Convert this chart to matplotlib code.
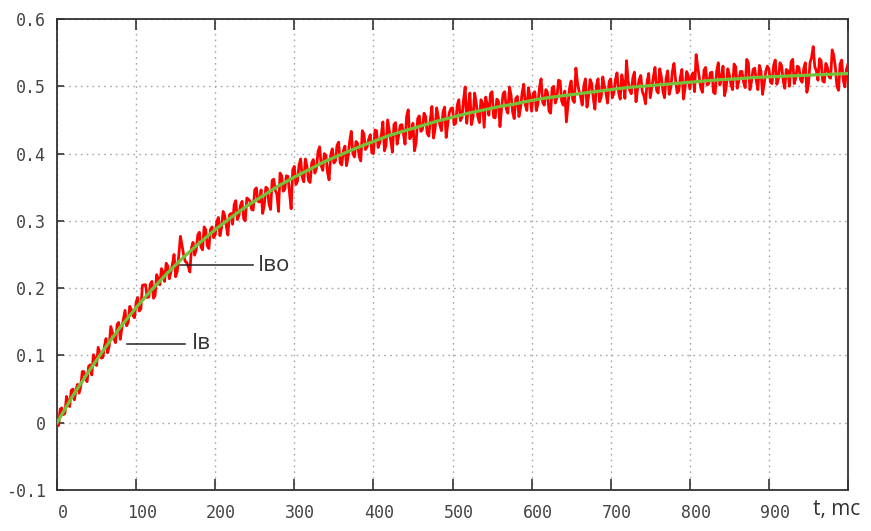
import numpy as np
import matplotlib
matplotlib.use("Agg")
import matplotlib.pyplot as plt
import matplotlib.transforms as mtransforms

# ---- data ----
t_fit = np.arange(0, 1001, 20)          # ms
i_fit = [0.000, 0.040, 0.076, 0.110, 0.142, 0.171, 0.198, 0.223, 0.246, 0.267,
         0.287, 0.305, 0.322, 0.337, 0.352, 0.365, 0.377, 0.389, 0.399, 0.409,
         0.418, 0.427, 0.434, 0.441, 0.448, 0.454, 0.460, 0.465, 0.470, 0.474,
         0.479, 0.483, 0.486, 0.489, 0.492, 0.495, 0.498, 0.500, 0.502, 0.504,
         0.506, 0.508, 0.510, 0.511, 0.513, 0.514, 0.515, 0.516, 0.517, 0.518,
         0.519]

t_meas = np.arange(0, 1001, 2)          # ms
i_meas = [
    # 0 - 98
    -0.005, -0.004, 0.020, 0.022, 0.012, 0.014, 0.039, 0.032, 0.024, 0.048,
    0.050, 0.034, 0.049, 0.057, 0.044, 0.054, 0.076, 0.076, 0.066, 0.061,
    0.084, 0.086, 0.071, 0.101, 0.096, 0.085, 0.112, 0.104, 0.096, 0.097,
    0.114, 0.125, 0.104, 0.114, 0.143, 0.134, 0.125, 0.119, 0.146, 0.149,
    0.124, 0.141, 0.154, 0.167, 0.144, 0.149, 0.173, 0.168, 0.159, 0.156,
    # 100 - 198
    0.179, 0.186, 0.166, 0.169, 0.204, 0.205, 0.205, 0.186, 0.187, 0.206,
    0.210, 0.185, 0.189, 0.220, 0.214, 0.205, 0.229, 0.224, 0.210, 0.237,
    0.233, 0.214, 0.224, 0.236, 0.250, 0.217, 0.225, 0.249, 0.277, 0.264,
    0.250, 0.240, 0.238, 0.232, 0.224, 0.260, 0.268, 0.249, 0.257, 0.279,
    0.283, 0.261, 0.257, 0.291, 0.287, 0.263, 0.259, 0.287, 0.291, 0.275,
    # 200 - 298
    0.279, 0.299, 0.305, 0.278, 0.290, 0.314, 0.308, 0.292, 0.279, 0.309,
    0.311, 0.295, 0.324, 0.330, 0.302, 0.308, 0.323, 0.329, 0.303, 0.300,
    0.334, 0.332, 0.329, 0.317, 0.316, 0.346, 0.349, 0.329, 0.328, 0.346,
    0.311, 0.323, 0.350, 0.348, 0.325, 0.317, 0.360, 0.362, 0.345, 0.340,
    0.314, 0.371, 0.367, 0.344, 0.347, 0.367, 0.366, 0.341, 0.318, 0.376,
    # 300 - 398
    0.381, 0.354, 0.359, 0.383, 0.392, 0.365, 0.358, 0.392, 0.381, 0.360,
    0.357, 0.386, 0.391, 0.371, 0.378, 0.403, 0.410, 0.382, 0.375, 0.400,
    0.397, 0.372, 0.361, 0.398, 0.407, 0.386, 0.389, 0.412, 0.417, 0.386,
    0.383, 0.404, 0.411, 0.382, 0.395, 0.418, 0.433, 0.400, 0.395, 0.418,
    0.415, 0.396, 0.389, 0.434, 0.429, 0.406, 0.410, 0.421, 0.428, 0.401,
    # 400 - 498
    0.400, 0.435, 0.434, 0.409, 0.416, 0.428, 0.447, 0.404, 0.413, 0.450,
    0.435, 0.419, 0.402, 0.443, 0.446, 0.414, 0.427, 0.442, 0.443, 0.429,
    0.414, 0.455, 0.465, 0.422, 0.427, 0.445, 0.404, 0.417, 0.452, 0.456,
    0.433, 0.436, 0.460, 0.455, 0.430, 0.426, 0.451, 0.470, 0.423, 0.437,
    0.468, 0.454, 0.443, 0.434, 0.462, 0.469, 0.424, 0.444, 0.461, 0.467,
    # 500 - 598
    0.468, 0.443, 0.445, 0.472, 0.480, 0.449, 0.454, 0.480, 0.499, 0.445,
    0.470, 0.490, 0.443, 0.455, 0.490, 0.475, 0.455, 0.446, 0.480, 0.475,
    0.439, 0.484, 0.472, 0.457, 0.489, 0.492, 0.454, 0.453, 0.481, 0.478,
    0.440, 0.467, 0.489, 0.492, 0.466, 0.460, 0.499, 0.487, 0.462, 0.452,
    0.482, 0.485, 0.455, 0.468, 0.490, 0.503, 0.473, 0.464, 0.498, 0.484,
    # 600 - 698
    0.463, 0.489, 0.492, 0.464, 0.474, 0.499, 0.511, 0.476, 0.472, 0.495,
    0.491, 0.463, 0.460, 0.498, 0.500, 0.475, 0.483, 0.509, 0.508, 0.478,
    0.472, 0.493, 0.447, 0.473, 0.498, 0.508, 0.480, 0.476, 0.527, 0.505,
    0.493, 0.484, 0.472, 0.500, 0.511, 0.469, 0.485, 0.510, 0.504, 0.482,
    0.466, 0.501, 0.511, 0.477, 0.484, 0.514, 0.500, 0.490, 0.475, 0.507,
    # 700 - 798
    0.511, 0.483, 0.490, 0.510, 0.520, 0.491, 0.481, 0.517, 0.505, 0.482,
    0.538, 0.508, 0.494, 0.489, 0.513, 0.521, 0.477, 0.496, 0.510, 0.516,
    0.492, 0.486, 0.474, 0.507, 0.519, 0.483, 0.499, 0.514, 0.528, 0.494,
    0.490, 0.526, 0.514, 0.493, 0.483, 0.511, 0.523, 0.488, 0.498, 0.522,
    0.534, 0.510, 0.490, 0.493, 0.513, 0.525, 0.481, 0.497, 0.522, 0.516,
    # 800 - 898
    0.496, 0.514, 0.520, 0.492, 0.547, 0.529, 0.513, 0.497, 0.491, 0.524,
    0.528, 0.502, 0.504, 0.520, 0.521, 0.491, 0.489, 0.523, 0.535, 0.502,
    0.512, 0.530, 0.486, 0.498, 0.526, 0.517, 0.503, 0.495, 0.533, 0.529,
    0.497, 0.508, 0.522, 0.522, 0.506, 0.498, 0.540, 0.535, 0.495, 0.507,
    0.525, 0.527, 0.509, 0.495, 0.531, 0.522, 0.488, 0.504, 0.522, 0.530,
    # 900 - 1000
    0.526, 0.506, 0.504, 0.531, 0.539, 0.503, 0.511, 0.535, 0.531, 0.509,
    0.497, 0.525, 0.523, 0.500, 0.536, 0.540, 0.504, 0.512, 0.530, 0.528,
    0.510, 0.506, 0.526, 0.535, 0.491, 0.503, 0.535, 0.543, 0.559, 0.529,
    0.523, 0.509, 0.541, 0.538, 0.508, 0.506, 0.534, 0.528, 0.514, 0.512,
    0.554, 0.546, 0.528, 0.500, 0.494, 0.533, 0.539, 0.509, 0.499, 0.525,
    0.533,
]

x_ticks = [0, 100, 200, 300, 400, 500, 600, 700, 800, 900, 1000]
x_tick_labels = ['0', '100', '200', '300', '400', '500', '600', '700', '800', '900', '']
y_ticks = [-0.1, 0.0, 0.1, 0.2, 0.3, 0.4, 0.5, 0.6]
y_tick_labels = ['-0.1', '0', '0.1', '0.2', '0.3', '0.4', '0.5', '0.6']
x_label = 't, mc'
label_meas = 'Iв'
label_fit = 'Iво'

# ---- figure ----
fig = plt.figure(figsize=(8.71, 5.31), dpi=100)
ax = fig.add_axes([57 / 871, 1 - 490 / 531, (848 - 57) / 871, (490 - 19) / 531])

ax.plot(t_meas, i_meas, color='#ff0000', lw=2.0, zorder=3)
ax.plot(t_fit, i_fit, color='#74c23a', lw=2.3, zorder=4)

ax.set_xlim(0, 1000)
ax.set_ylim(-0.1, 0.6)

ax.set_xticks(x_ticks)
ax.set_xticklabels(x_tick_labels, family='DejaVu Sans Mono', fontsize=12, color='#444444')
ax.set_yticks(y_ticks)
ax.set_yticklabels(y_tick_labels, family='DejaVu Sans Mono', fontsize=12, color='#444444')

ax.tick_params(axis='x', direction='in', length=8, width=1.2, color='#333333',
               top=True, bottom=True, pad=10)
ax.tick_params(axis='y', direction='in', length=5, width=1.2, color='#333333',
               left=True, right=False, pad=8)

# shift x tick labels slightly right as in the reference
offset = mtransforms.ScaledTranslation(6 / 100, 0, fig.dpi_scale_trans)
for lbl in ax.get_xticklabels():
    lbl.set_transform(lbl.get_transform() + offset)

ax.grid(True, linestyle=(0, (1.2, 3)), color='#a8a8a8', lw=1.0)
ax.set_axisbelow(True)

for sp in ax.spines.values():
    sp.set_color('#333333')
    sp.set_linewidth(1.3)

# annotation leader lines
ax.plot([155.5, 247.8], [0.234, 0.234], color='#222222', lw=1.1, zorder=5)
ax.text(254, 0.234, label_fit, fontsize=16, family=['Open Sans', 'DejaVu Sans'],
        color='#333333', va='center', ha='left')
ax.plot([88.5, 161.8], [0.117, 0.117], color='#222222', lw=1.1, zorder=5)
ax.text(170.7, 0.117, label_meas, fontsize=16, family=['Open Sans', 'DejaVu Sans'],
        color='#333333', va='center', ha='left')

fig.text(813 / 871, 1 - 515 / 531, x_label, fontsize=15,
         family=['Open Sans', 'DejaVu Sans'], color='#333333',
         ha='left', va='baseline')

fig.savefig('out.png', dpi=100, facecolor='white')
